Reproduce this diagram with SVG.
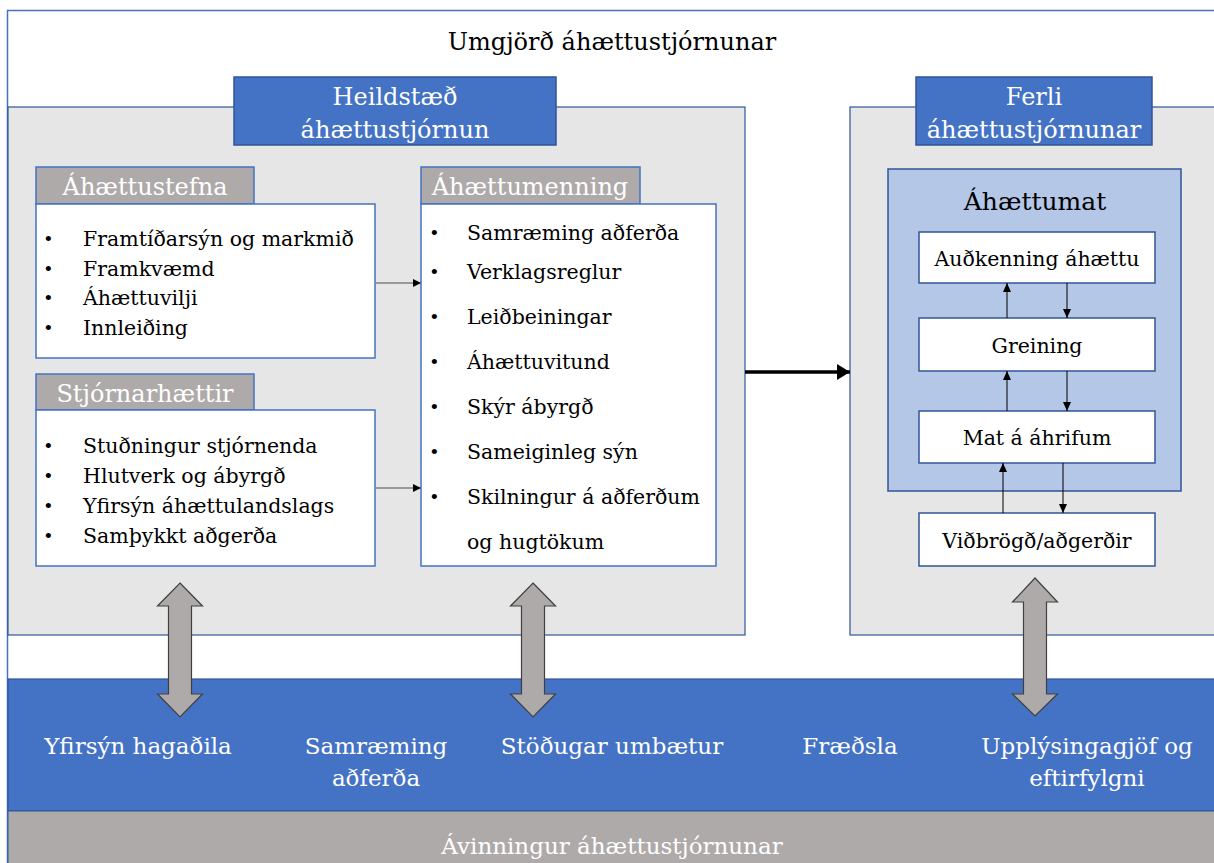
<svg xmlns="http://www.w3.org/2000/svg" width="1214" height="863" viewBox="0 0 1214 863">
<defs>
<style>
.t{font-family:"DejaVu Serif","Liberation Serif",serif;}
.w{fill:#ffffff;}
.k{fill:#000000;}
.bul{font-family:"Liberation Sans",Arial,sans-serif;font-size:19px;fill:#000;}
.panel{fill:#e7e6e6;stroke:#2f5597;stroke-width:1.2;}
.hdr{fill:#4472c4;stroke:#2f5597;stroke-width:1.5;}
.tab{fill:#aeaaaa;stroke:#4472c4;stroke-width:1.5;}
.box{fill:#ffffff;stroke:#4472c4;stroke-width:1.5;}
.step{fill:#ffffff;stroke:#2f5597;stroke-width:1.5;}
.garrow{fill:#aeaaaa;stroke:#404040;stroke-width:1.2;}
.thin{stroke:#000;stroke-width:1;fill:none;}
.gline{stroke:#7f7f7f;stroke-width:1.5;fill:none;}
</style>
<marker id="ah" markerWidth="10" markerHeight="10" refX="8" refY="4" orient="auto" markerUnits="userSpaceOnUse">
<path d="M0,0 L8,4 L0,8 Z" fill="#000"/>
</marker>
<marker id="ahs" markerWidth="10" markerHeight="10" refX="9" refY="4" orient="auto" markerUnits="userSpaceOnUse">
<path d="M0,0 L9,4 L0,8 Z" fill="#000"/>
</marker>
<marker id="big" markerWidth="14" markerHeight="16" refX="13" refY="8" orient="auto" markerUnits="userSpaceOnUse">
<path d="M0,0 L13,8 L0,16 Z" fill="#000"/>
</marker>
</defs>

<g id="frame">
<rect x="7.5" y="10.5" width="1220" height="870" fill="#ffffff" stroke="#4472c4" stroke-width="1.5"/>
<text class="t k" x="612" y="50" font-size="24" text-anchor="middle">Umgjörð áhættustjórnunar</text>
</g>

<g id="left-panel">
<rect class="panel" x="8" y="107" width="737" height="528"/>
</g>
<g id="right-panel">
<rect class="panel" x="850" y="107" width="380" height="528"/>
</g>

<g id="header-heildstaed">
<rect class="hdr" x="234" y="77" width="322" height="68"/>
<text class="t w" x="395" y="105" font-size="24" text-anchor="middle">Heildstæð</text>
<text class="t w" x="395" y="138" font-size="24" text-anchor="middle">áhættustjórnun</text>
</g>

<g id="header-ferli">
<rect class="hdr" x="916" y="77" width="236" height="68"/>
<text class="t w" x="1034" y="105" font-size="24" text-anchor="middle">Ferli</text>
<text class="t w" x="1034" y="138" font-size="24" text-anchor="middle">áhættustjórnunar</text>
</g>

<g id="ahaettustefna">
<rect class="tab" x="36" y="167" width="218" height="37"/>
<text class="t w" x="145" y="195" font-size="24" text-anchor="middle">Áhættustefna</text>
<rect class="box" x="36" y="204" width="339" height="154"/>
<text class="bul" x="45" y="245">•</text>
<text class="bul" x="45" y="275">•</text>
<text class="bul" x="45" y="304">•</text>
<text class="bul" x="45" y="334">•</text>
<text class="t k" x="83" y="246" font-size="20.5">Framtíðarsýn og markmið</text>
<text class="t k" x="83" y="276" font-size="20.5">Framkvæmd</text>
<text class="t k" x="83" y="305" font-size="20.5">Áhættuvilji</text>
<text class="t k" x="83" y="335" font-size="20.5">Innleiðing</text>
</g>

<g id="stjornarhaettir">
<rect class="tab" x="36" y="374" width="218" height="36"/>
<text class="t w" x="145" y="402" font-size="24" text-anchor="middle">Stjórnarhættir</text>
<rect class="box" x="36" y="410" width="339" height="156"/>
<text class="bul" x="45" y="452">•</text>
<text class="bul" x="45" y="482">•</text>
<text class="bul" x="45" y="512">•</text>
<text class="bul" x="45" y="542">•</text>
<text class="t k" x="83" y="453" font-size="20.5">Stuðningur stjórnenda</text>
<text class="t k" x="83" y="483" font-size="20.5">Hlutverk og ábyrgð</text>
<text class="t k" x="83" y="513" font-size="20.5">Yfirsýn áhættulandslags</text>
<text class="t k" x="83" y="543" font-size="20.5">Samþykkt aðgerða</text>
</g>

<g id="ahaettumenning">
<rect class="tab" x="421" y="167" width="219" height="37"/>
<text class="t w" x="530" y="195" font-size="24" text-anchor="middle">Áhættumenning</text>
<rect class="box" x="421" y="204" width="295" height="362"/>
<text class="bul" x="431" y="239">•</text>
<text class="bul" x="431" y="278">•</text>
<text class="bul" x="431" y="323">•</text>
<text class="bul" x="431" y="368">•</text>
<text class="bul" x="431" y="413">•</text>
<text class="bul" x="431" y="458">•</text>
<text class="bul" x="431" y="503">•</text>
<text class="t k" x="467" y="240" font-size="20.5">Samræming aðferða</text>
<text class="t k" x="467" y="279" font-size="20.5">Verklagsreglur</text>
<text class="t k" x="467" y="324" font-size="20.5">Leiðbeiningar</text>
<text class="t k" x="467" y="369" font-size="20.5">Áhættuvitund</text>
<text class="t k" x="467" y="414" font-size="20.5">Skýr ábyrgð</text>
<text class="t k" x="467" y="459" font-size="20.5">Sameiginleg sýn</text>
<text class="t k" x="467" y="504" font-size="20.5">Skilningur á aðferðum</text>
<text class="t k" x="467" y="549" font-size="20.5">og hugtökum</text>
</g>

<g id="ahaettumat">
<rect x="888" y="169" width="293" height="322" fill="#b4c7e7" stroke="#2f5597" stroke-width="1.5"/>
<text class="t k" x="1035" y="210" font-size="25" text-anchor="middle">Áhættumat</text>
</g>
<g id="audkenning">
<rect class="step" x="919" y="232" width="236" height="51"/>
<text class="t k" x="1037" y="266" font-size="20.5" text-anchor="middle">Auðkenning áhættu</text>
</g>
<g id="greining">
<rect class="step" x="919" y="318" width="236" height="53"/>
<text class="t k" x="1037" y="353" font-size="20.5" text-anchor="middle">Greining</text>
</g>
<g id="mat">
<rect class="step" x="919" y="411" width="236" height="52"/>
<text class="t k" x="1037" y="445" font-size="20.5" text-anchor="middle">Mat á áhrifum</text>
</g>
<g id="vidbrogd">
<rect class="step" x="919" y="513" width="236" height="53"/>
<text class="t k" x="1037" y="548" font-size="20.5" text-anchor="middle">Viðbrögð/aðgerðir</text>
</g>

<g id="bottom-band">
<rect x="8" y="679" width="1220" height="132" fill="#4472c4" stroke="#2f5597" stroke-width="1.2"/>
<text class="t w" x="138" y="754" font-size="23" text-anchor="middle">Yfirsýn hagaðila</text>
<text class="t w" x="376" y="754" font-size="23" text-anchor="middle">Samræming</text>
<text class="t w" x="376" y="786" font-size="23" text-anchor="middle">aðferða</text>
<text class="t w" x="612" y="754" font-size="23" text-anchor="middle">Stöðugar umbætur</text>
<text class="t w" x="850" y="754" font-size="23" text-anchor="middle">Fræðsla</text>
<text class="t w" x="1087" y="754" font-size="23" text-anchor="middle">Upplýsingagjöf og</text>
<text class="t w" x="1087" y="786" font-size="23" text-anchor="middle">eftirfylgni</text>
</g>

<g id="benefit-band">
<rect x="8" y="811" width="1220" height="60" fill="#aeaaaa" stroke="#2f5597" stroke-width="1"/>
<text class="t w" x="612" y="854" font-size="23" text-anchor="middle">Ávinningur áhættustjórnunar</text>
</g>

<g id="connectors">
<line class="gline" x1="375" y1="283" x2="421" y2="283" marker-end="url(#ah)"/>
<line class="gline" x1="375" y1="488" x2="421" y2="488" marker-end="url(#ah)"/>
<line x1="745" y1="372" x2="850" y2="372" stroke="#000" stroke-width="3.5" marker-end="url(#big)"/>
<line class="thin" x1="1007" y1="318" x2="1007" y2="283" marker-end="url(#ahs)"/>
<line class="thin" x1="1067" y1="283" x2="1067" y2="318" marker-end="url(#ahs)"/>
<line class="thin" x1="1007" y1="411" x2="1007" y2="371" marker-end="url(#ahs)"/>
<line class="thin" x1="1067" y1="371" x2="1067" y2="411" marker-end="url(#ahs)"/>
<line class="thin" x1="1003" y1="513" x2="1003" y2="463" marker-end="url(#ahs)"/>
<line class="thin" x1="1063" y1="463" x2="1063" y2="513" marker-end="url(#ahs)"/>
<polygon class="garrow" points="180,583 202.5,606 191.5,606 191.5,694 202.5,694 180,717 157.5,694 168.5,694 168.5,606 157.5,606"/>
<polygon class="garrow" points="533,583 555.5,606 544.5,606 544.5,694 555.5,694 533,717 510.5,694 521.5,694 521.5,606 510.5,606"/>
<polygon class="garrow" points="1035,578 1057.5,602 1046.5,602 1046.5,694 1057.5,694 1035,716 1012.5,694 1023.5,694 1023.5,602 1012.5,602"/>
</g>
</svg>
